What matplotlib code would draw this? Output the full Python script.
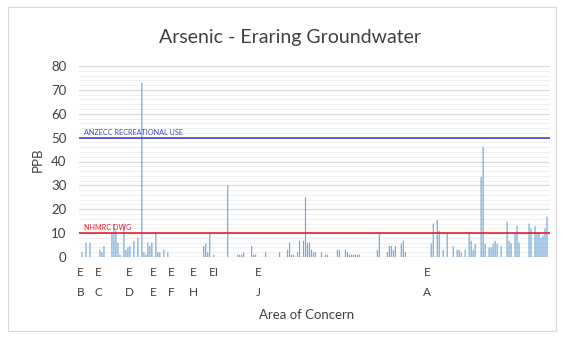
import matplotlib
matplotlib.use("Agg")
import matplotlib.pyplot as plt
from matplotlib.patches import Rectangle
import matplotlib.transforms as mtransforms

plt.rcParams['font.family'] = ['Lato', 'DejaVu Sans']

# Arsenic concentrations (PPB), one per sampling record, in chart order
arsenic_ppb = [
    0, 2, 0, 6, 0, 6, 0, 0, 0, 0, 3, 2, 4.6, 0, 0, 0, 10, 13.8, 11, 6,
    1, 0, 14, 3, 4, 4.6, 0, 6.8, 0, 8, 0, 73, 2, 1, 6, 4.6, 6, 0, 10, 2,
    2, 0, 3, 0, 2, 0, 0, 0, 0, 0, 0, 0, 0, 0, 0, 0, 0, 0, 0, 0,
    0, 0, 4.6, 5.6, 2, 10, 0, 1, 0, 0, 0, 0, 0, 0, 30, 0, 0, 0, 0, 1,
    1, 1, 2, 0, 0, 0, 4.6, 1, 1, 0, 0, 0, 0, 2, 0, 0, 0, 0, 0, 0,
    2, 0, 0, 0, 3, 6, 1, 1, 0, 2, 6.8, 0, 6.8, 25, 6, 6, 3, 2, 2, 0,
    0, 2, 0, 1, 1, 0, 0, 0, 0, 3, 3, 0, 0, 3, 2, 1, 1, 1, 1, 1,
    1, 0, 0, 0, 0, 0, 0, 0, 0, 3, 10, 0, 0, 0, 2, 4.6, 4.6, 3, 4.6, 0,
    0, 5.6, 6.8, 2, 0, 0, 0, 0, 0, 0, 0, 0, 0, 0, 0, 0, 5.6, 14, 0, 15.5,
    11, 0, 3, 0, 10, 0, 0, 4.6, 0, 3, 3, 2, 0, 3, 0, 10, 6.8, 3, 5.5, 0,
    0, 33.6, 46, 5.6, 0, 4, 4, 5.6, 6.8, 5.6, 0, 4.6, 0, 0, 14.8, 6.8, 5.8, 0, 10, 13,
    6, 0, 0, 0, 0, 14, 12, 0, 13, 10, 10.6, 8, 9, 12, 16.9, 0,
]

# Area-of-concern group labels (outer / inner level) and the record index where each appears
group_outer = ["E", "E", "E", "E", "E", "E", "EI", "E", "E"]
group_inner = ["B", "C", "D", "E", "F", "H", "", "J", "A"]
group_index = [0.35, 9.2, 24.7, 36.8, 45.5, 56.7, 67, 89.4, 174]

# Guideline thresholds
guidelines = [50, 10]
guideline_names = ["ANZECC RECREATIONAL USE", "NHMRC DWG"]
guideline_colors = ["#4646C4", "#E8202A"]

fig = plt.figure(figsize=(5.63, 3.37), dpi=100)
W, H = 563, 337
fig.patches.append(Rectangle((8 / W, 1 - 331 / H), 548 / W, 324 / H,
                             transform=fig.transFigure, fill=False,
                             edgecolor="#D9D9D9", linewidth=0.8))

left, right, y0, y80 = 79, 550, 257, 66
ax = fig.add_axes([left / W, 1 - y0 / H, (right - left) / W, (y0 - y80) / H])

n = len(arsenic_ppb)
bars = ax.bar(range(n), arsenic_ppb, width=0.6, color="#5B9BD5", edgecolor="none",
              zorder=3, alpha=0.85)
for b in bars:
    b.set_snap(False)
ax.set_xlim(-0.5, n - 0.5)
ax.set_ylim(0, 80)
ax.set_yticks(range(0, 81, 10))
ax.set_yticks(range(0, 81, 2), minor=True)
ax.grid(axis="y", which="major", color="#D9D9D9", linewidth=0.9, zorder=0)
ax.grid(axis="y", which="minor", color="#F0F0F0", linewidth=0.7, zorder=0)
ax.tick_params(axis="y", which="both", length=0, labelsize=9.5, labelcolor="#404040", pad=9)
ax.set_xticks([])
for s in ax.spines.values():
    s.set_visible(False)
ax.axhline(0, color="#D9D9D9", linewidth=0.9, zorder=2)

for val, name, col in zip(guidelines, guideline_names, guideline_colors):
    ax.axhline(val, color=col, linewidth=1.2, zorder=4)
    ax.text(2, val + 0.8, name, color=col, fontsize=5.2, ha="left", va="bottom", zorder=5)

trans = mtransforms.blended_transform_factory(ax.transData, ax.transAxes)
for xo, top, bot in zip(group_index, group_outer, group_inner):
    ax.text(xo, -16 / 191, top, transform=trans, ha="center", va="center",
            fontsize=8.5, color="#404040")
    if bot:
        ax.text(xo, -36 / 191, bot, transform=trans, ha="center", va="center",
                fontsize=8.5, color="#404040")

fig.text(307 / W, 1 - 315 / H, "Area of Concern", ha="center", va="center",
         fontsize=9.5, color="#404040")
fig.text(38 / W, 1 - 160 / H, "PPB", ha="center", va="center", rotation=90,
         fontsize=9.5, color="#404040")
fig.text(290 / W, 1 - 37 / H, "Arsenic - Eraring Groundwater", ha="center", va="center",
         fontsize=14, color="#404040")

fig.savefig("out.png", dpi=100)
